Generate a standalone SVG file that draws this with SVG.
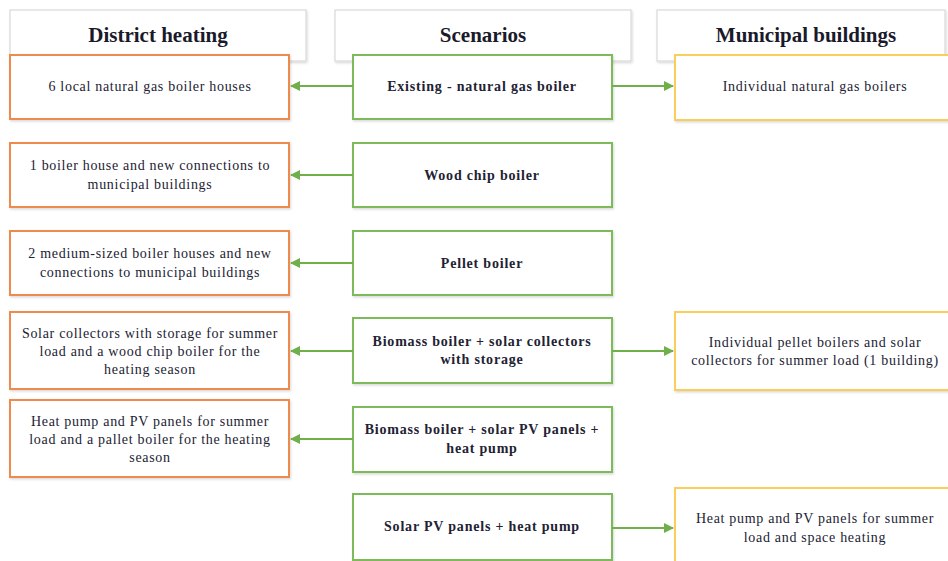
<svg xmlns="http://www.w3.org/2000/svg" width="948" height="561" viewBox="0 0 948 561">
<defs>
<style>
.hdr{fill:#fff;stroke:#d9d9d9;stroke-width:1.2}
.or{fill:#fff;stroke:#ee8a4c;stroke-width:2}
.gr{fill:#fff;stroke:#7dbb5a;stroke-width:2}
.ye{fill:#fff;stroke:#f7cf5a;stroke-width:2}
.ht{font-family:"Liberation Serif",serif;font-weight:bold;font-size:21px;fill:#1a1a2a;text-anchor:middle}
.t{font-family:"Liberation Serif",serif;font-size:14px;letter-spacing:0.7px;fill:#222233;text-anchor:middle}
.tb{font-family:"Liberation Serif",serif;font-weight:bold;font-size:14px;letter-spacing:0.8px;fill:#222233;text-anchor:middle}
.c{stroke:#6fb04a;stroke-width:2;fill:none;marker-end:url(#ah)}
</style>
<marker id="ah" viewBox="0 0 10 10" refX="9" refY="5" markerWidth="5" markerHeight="5" orient="auto" markerUnits="strokeWidth">
<path d="M0,0 L10,5 L0,10 z" fill="#6fb04a"/>
</marker>
<filter id="sh" x="-5%" y="-5%" width="110%" height="115%">
<feDropShadow dx="1" dy="1.5" stdDeviation="1" flood-color="#000" flood-opacity="0.15"/>
</filter>
</defs>

<g id="headers">
<g id="h-district"><rect class="hdr" x="10" y="10" width="296" height="51" filter="url(#sh)"/><text class="ht" x="158" y="42">District heating</text></g>
<g id="h-scenarios"><rect class="hdr" x="335" y="10" width="296" height="51" filter="url(#sh)"/><text class="ht" x="483" y="42">Scenarios</text></g>
<g id="h-municipal"><rect class="hdr" x="657" y="10" width="288" height="51" filter="url(#sh)"/><text class="ht" x="806" y="42">Municipal buildings</text></g>
</g>

<g id="district">
<g id="d1"><rect class="or" x="10" y="55" width="279" height="64" filter="url(#sh)"/><text class="t" x="150" y="91">6 local natural gas boiler houses</text></g>
<g id="d2"><rect class="or" x="10" y="143" width="279" height="64" filter="url(#sh)"/><text class="t" x="150" y="170">1 boiler house and new connections to</text><text class="t" x="150" y="189">municipal buildings</text></g>
<g id="d3"><rect class="or" x="10" y="231" width="279" height="64" filter="url(#sh)"/><text class="t" x="150" y="258">2 medium-sized boiler houses and new</text><text class="t" x="150" y="277">connections to municipal buildings</text></g>
<g id="d4"><rect class="or" x="10" y="312" width="279" height="77" filter="url(#sh)"/><text class="t" x="150" y="338">Solar collectors with storage for summer</text><text class="t" x="150" y="356">load and a wood chip boiler for the</text><text class="t" x="150" y="374">heating season</text></g>
<g id="d5"><rect class="or" x="10" y="400" width="279" height="77" filter="url(#sh)"/><text class="t" x="150" y="426">Heat pump and PV panels for summer</text><text class="t" x="150" y="444">load and a pallet boiler for the heating</text><text class="t" x="150" y="462">season</text></g>
</g>

<g id="scenarios">
<g id="s1"><rect class="gr" x="353" y="55" width="259" height="64" filter="url(#sh)"/><text class="tb" x="482" y="91">Existing - natural gas boiler</text></g>
<g id="s2"><rect class="gr" x="353" y="143" width="259" height="64" filter="url(#sh)"/><text class="tb" x="482" y="180">Wood chip boiler</text></g>
<g id="s3"><rect class="gr" x="353" y="231" width="259" height="64" filter="url(#sh)"/><text class="tb" x="482" y="268">Pellet boiler</text></g>
<g id="s4"><rect class="gr" x="353" y="318" width="259" height="65" filter="url(#sh)"/><text class="tb" x="482" y="346">Biomass boiler + solar collectors</text><text class="tb" x="482" y="364">with storage</text></g>
<g id="s5"><rect class="gr" x="353" y="407" width="259" height="65" filter="url(#sh)"/><text class="tb" x="482" y="434">Biomass boiler + solar PV panels +</text><text class="tb" x="482" y="453">heat pump</text></g>
<g id="s6"><rect class="gr" x="353" y="494" width="259" height="66" filter="url(#sh)"/><text class="tb" x="482" y="531">Solar PV panels + heat pump</text></g>
</g>

<g id="municipal">
<g id="m1"><rect class="ye" x="675" y="55" width="280" height="65" filter="url(#sh)"/><text class="t" x="815" y="91">Individual natural gas boilers</text></g>
<g id="m4"><rect class="ye" x="675" y="312" width="280" height="78" filter="url(#sh)"/><text class="t" x="815" y="347">Individual pellet boilers and solar</text><text class="t" x="815" y="365">collectors for summer load (1 building)</text></g>
<g id="m6"><rect class="ye" x="675" y="488" width="280" height="80" filter="url(#sh)"/><text class="t" x="815" y="523">Heat pump and PV panels  for summer</text><text class="t" x="815" y="542">load and space heating</text></g>
</g>

<g id="connectors">
<line class="c" x1="353" y1="86" x2="291" y2="86"/>
<line class="c" x1="612" y1="86" x2="673" y2="86"/>
<line class="c" x1="353" y1="175" x2="291" y2="175"/>
<line class="c" x1="353" y1="263" x2="291" y2="263"/>
<line class="c" x1="353" y1="351" x2="291" y2="351"/>
<line class="c" x1="612" y1="351" x2="673" y2="351"/>
<line class="c" x1="353" y1="439" x2="291" y2="439"/>
<line class="c" x1="612" y1="528" x2="673" y2="528"/>
</g>
</svg>
